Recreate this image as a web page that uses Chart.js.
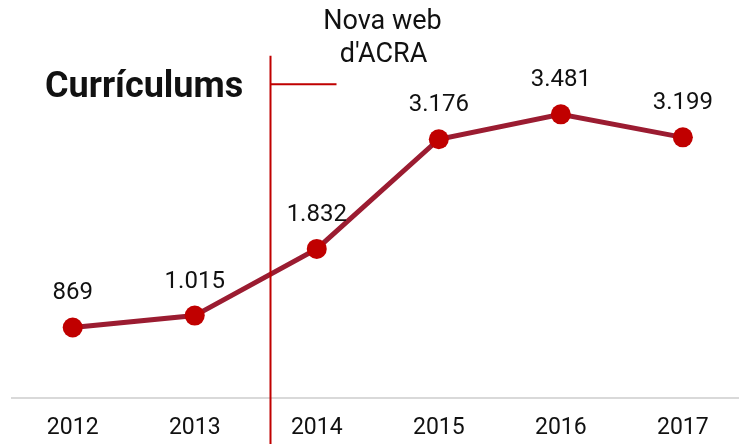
<!DOCTYPE html>
<html>
<head>
<meta charset="utf-8">
<script src="https://cdn.jsdelivr.net/npm/chart.js@4/dist/chart.umd.min.js"></script>
<style>
  html, body { margin: 0; padding: 0; background: #fff; overflow: hidden; }
  #wrap { width: 739px; height: 444px; }
</style>
</head>
<body>
<div id="wrap"><canvas id="chart"></canvas></div>
<script>
// Currículums per any — línia amb etiquetes de valor
const years = ['2012', '2013', '2014', '2015', '2016', '2017'];
const curriculums = [869, 1015, 1832, 3176, 3481, 3199];
const titleText = 'Currículums';
const noteLines = ['Nova web', "d'ACRA"];
const noteAt = 1.62;        // position on the year axis (between 2013 and 2014)
const noteTopValue = 4200;  // where the marker line starts (y value)
const noteArmValue = 3850;  // small horizontal arm

const fmt = v => v.toLocaleString('de-DE');

const overlay = {
  id: 'overlay',
  afterDatasetsDraw(chart) {
    const { ctx, scales: { x, y } } = chart;
    ctx.save();

    // title
    ctx.fillStyle = '#111';
    ctx.font = 'bold 36px Roboto';
    ctx.textAlign = 'left';
    ctx.textBaseline = 'alphabetic';
    ctx.fillText(titleText, 45, 97);

    // marker "Nova web d'ACRA"
    const nx = Math.round(x.getPixelForValue(noteAt)) + 0.5;
    ctx.strokeStyle = '#C00000';
    ctx.lineWidth = 2;
    ctx.beginPath();
    ctx.moveTo(nx, y.getPixelForValue(noteTopValue));
    ctx.lineTo(nx, chart.height);
    ctx.moveTo(nx, y.getPixelForValue(noteArmValue));
    ctx.lineTo(nx + 66, y.getPixelForValue(noteArmValue));
    ctx.stroke();

    ctx.fillStyle = '#111';
    ctx.font = '27px Roboto';
    ctx.textAlign = 'center';
    ctx.textBaseline = 'middle';
    ctx.fillText(noteLines[0], nx + 112, 22);
    ctx.fillText(noteLines[1], nx + 113, 55);

    // value labels
    ctx.font = '24px Roboto';
    const meta = chart.getDatasetMeta(0);
    meta.data.forEach((pt, i) => {
      ctx.fillText(fmt(curriculums[i]), pt.x, pt.y - 34);
    });
    ctx.restore();
  }
};

new Chart(document.getElementById('chart'), {
  type: 'line',
  data: {
    datasets: [{
      data: curriculums.map((v, i) => ({ x: i, y: v })),
      borderColor: '#9B1C31',
      borderWidth: 5,
      tension: 0,
      pointRadius: 10,
      pointHoverRadius: 10,
      pointBackgroundColor: '#C00000',
      pointBorderWidth: 0
    }]
  },
  options: {
    responsive: true,
    maintainAspectRatio: false,
    animation: false,
    layout: { autoPadding: false, padding: { top: 72, left: 12, right: 0, bottom: -14 } },
    plugins: { legend: { display: false }, tooltip: { enabled: false } },
    scales: {
      x: {
        type: 'linear',
        min: -0.4975,
        max: 5.46,
        afterBuildTicks: s => { s.ticks = years.map((_, i) => ({ value: i })); },
        ticks: {
          autoSkip: false,
          maxRotation: 0,
          padding: 16,
          color: '#111',
          font: { family: 'Roboto', size: 23 },
          callback: v => years[v]
        },
        grid: { display: false, drawTicks: false },
        border: { display: true, color: '#d9d9d9', width: 2 }
      },
      y: {
        display: false,
        min: 0,
        max: 4000
      }
    }
  },
  plugins: [overlay]
});
</script>
</body>
</html>
